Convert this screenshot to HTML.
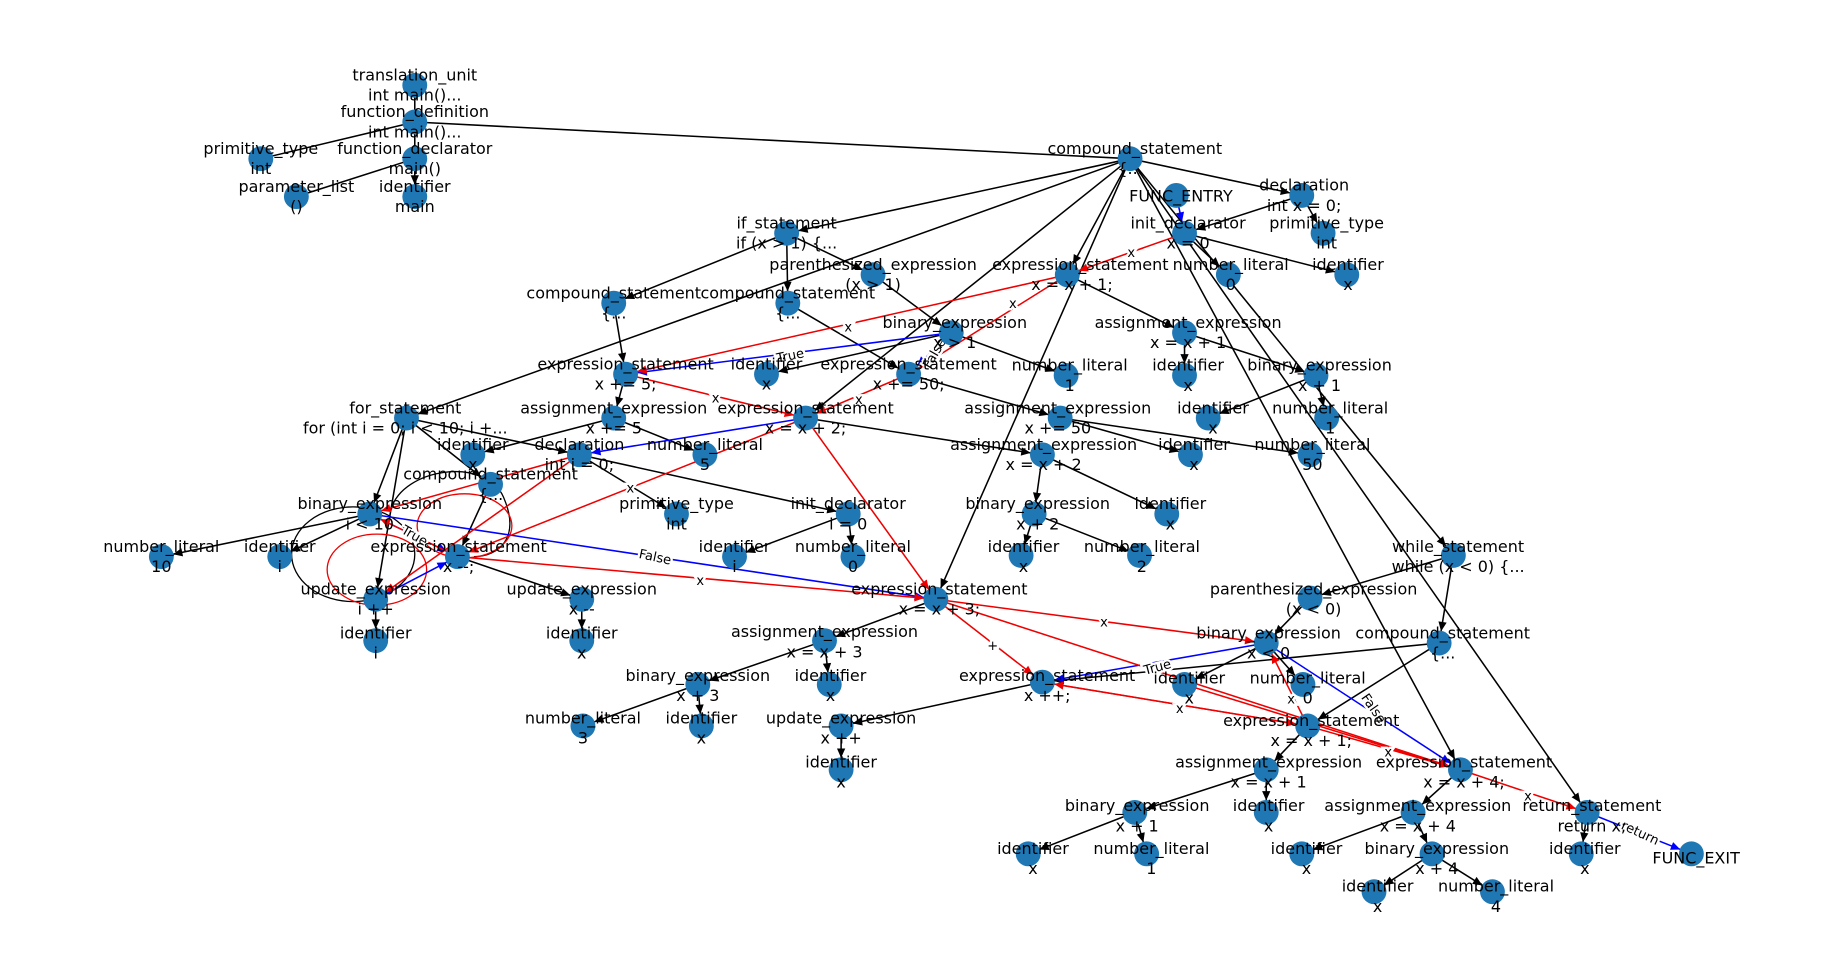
<!DOCTYPE html>
<html><head><meta charset="utf-8"><style>
html,body{margin:0;padding:0;background:#fff;}
svg{display:block}
text{font-family:"DejaVu Sans","Liberation Sans",sans-serif;}
.n text{font-size:13.5px;text-anchor:middle;fill:#000}
.el{font-size:11px;text-anchor:middle;fill:#000;paint-order:stroke;stroke:#fff;stroke-width:4px}
</style></head><body>
<svg width="1848" height="977" viewBox="0 0 1560 825" xmlns="http://www.w3.org/2000/svg">
<defs>
<marker id="ak" markerUnits="userSpaceOnUse" markerWidth="30" markerHeight="30" refX="0" refY="0" viewBox="-20 -10 30 20" orient="auto" overflow="visible"><path d="M-18,-3.5 L-10,0 L-18,3.5 z" fill="#000"/></marker>
<marker id="ab" markerUnits="userSpaceOnUse" markerWidth="30" markerHeight="30" refX="0" refY="0" viewBox="-20 -10 30 20" orient="auto" overflow="visible"><path d="M-18,-3.5 L-10,0 L-18,3.5 z" fill="#00f"/></marker>
<marker id="ar" markerUnits="userSpaceOnUse" markerWidth="30" markerHeight="30" refX="0" refY="0" viewBox="-20 -10 30 20" orient="auto" overflow="visible"><path d="M-18,-3.5 L-10,0 L-18,3.5 z" fill="#e00"/></marker>
</defs>
<g stroke="#000" stroke-width="1.3" fill="none" marker-end="url(#ak)">
<path d="M350,72L350,103M350,103L220,134M350,103L350,134M350,103L954,134M350,134L250,166M350,134L350,166"/>
<line x1="954" y1="134" x2="1099" y2="165"/><line x1="954" y1="134" x2="664" y2="197"/><line x1="954" y1="134" x2="343" y2="353"/><line x1="954" y1="134" x2="901" y2="232"/><line x1="954" y1="134" x2="790" y2="506"/><line x1="954" y1="134" x2="1227" y2="469"/><line x1="954" y1="134" x2="1233" y2="650"/><line x1="954" y1="134" x2="1340" y2="686"/><line x1="954" y1="134" x2="680" y2="353"/>
<line x1="1099" y1="165" x2="1000" y2="197"/><line x1="1099" y1="165" x2="1117" y2="197"/><line x1="1000" y1="197" x2="1037" y2="232"/><line x1="1000" y1="197" x2="1137" y2="232"/>
<line x1="664" y1="197" x2="737" y2="232"/><line x1="664" y1="197" x2="518" y2="256"/><line x1="664" y1="197" x2="665" y2="256"/><line x1="737" y1="232" x2="803" y2="281"/><line x1="803" y1="281" x2="647" y2="316"/><line x1="803" y1="281" x2="900" y2="317"/>
<line x1="518" y1="256" x2="528" y2="316"/><line x1="665" y1="256" x2="767" y2="316"/><line x1="528" y1="316" x2="518" y2="353"/><line x1="518" y1="353" x2="399" y2="384"/><line x1="518" y1="353" x2="595" y2="384"/>
<line x1="767" y1="316" x2="895" y2="353"/><line x1="895" y1="353" x2="1005" y2="384"/><line x1="895" y1="353" x2="1106" y2="384"/>
<line x1="901" y1="232" x2="1000" y2="281"/><line x1="1000" y1="281" x2="1000" y2="317"/><line x1="1000" y1="281" x2="1111" y2="317"/><line x1="1111" y1="317" x2="1020" y2="353"/><line x1="1111" y1="317" x2="1120" y2="353"/>
<line x1="680" y1="353" x2="880" y2="384"/><line x1="880" y1="384" x2="873" y2="434"/><line x1="880" y1="384" x2="985" y2="434"/><line x1="873" y1="434" x2="862" y2="469"/><line x1="873" y1="434" x2="962" y2="469"/>
<line x1="343" y1="353" x2="489" y2="384"/><line x1="343" y1="353" x2="312" y2="434"/><line x1="343" y1="353" x2="317" y2="506"/><line x1="343" y1="353" x2="414" y2="409"/>
<line x1="489" y1="384" x2="571" y2="434"/><line x1="489" y1="384" x2="716" y2="434"/><line x1="716" y1="434" x2="620" y2="470"/><line x1="716" y1="434" x2="720" y2="470"/>
<line x1="312" y1="434" x2="136" y2="470"/><line x1="312" y1="434" x2="236" y2="470"/><line x1="317" y1="506" x2="317" y2="541"/><line x1="414" y1="409" x2="386" y2="470"/><line x1="386" y1="470" x2="491" y2="506"/><line x1="491" y1="506" x2="491" y2="541"/>
<line x1="790" y1="506" x2="696" y2="541"/><line x1="696" y1="541" x2="589" y2="578"/><line x1="696" y1="541" x2="700" y2="578"/><line x1="589" y1="578" x2="492" y2="613"/><line x1="589" y1="578" x2="592" y2="613"/>
<line x1="880" y1="576" x2="710" y2="613"/><line x1="710" y1="613" x2="710" y2="650"/>
<line x1="1227" y1="469" x2="1106" y2="505"/><line x1="1227" y1="469" x2="1215" y2="543"/><line x1="1106" y1="505" x2="1069" y2="543"/><line x1="1069" y1="543" x2="1000" y2="578"/><line x1="1069" y1="543" x2="1100" y2="578"/>
<line x1="1215" y1="543" x2="880" y2="576"/><line x1="1215" y1="543" x2="1104" y2="613"/><line x1="1104" y1="613" x2="1069" y2="650"/><line x1="1069" y1="650" x2="958" y2="686"/><line x1="1069" y1="650" x2="1069" y2="686"/><line x1="958" y1="686" x2="868" y2="721"/><line x1="958" y1="686" x2="968" y2="721"/>
<line x1="1233" y1="650" x2="1193" y2="686"/><line x1="1193" y1="686" x2="1099" y2="721"/><line x1="1193" y1="686" x2="1209" y2="721"/><line x1="1209" y1="721" x2="1160" y2="753"/><line x1="1209" y1="721" x2="1260" y2="753"/><line x1="1340" y1="686" x2="1335" y2="721"/>
</g>
<g fill="none" stroke="#000" stroke-width="1.1">
<ellipse cx="298" cy="468" rx="52" ry="40"/>
<path d="M330,430 C340,395 410,385 425,420 C440,455 420,470 400,470"/>
</g>
<g fill="none" stroke="#e00" stroke-width="1.1">
<ellipse cx="318" cy="481" rx="42" ry="30"/>
<ellipse cx="392" cy="444" rx="40" ry="27"/>
</g>
<g stroke="#00f" stroke-width="1.3" fill="none" marker-end="url(#ab)">
<line x1="993" y1="165" x2="1000" y2="197"/><line x1="803" y1="281" x2="528" y2="316"/><line x1="803" y1="281" x2="767" y2="316"/><line x1="680" y1="353" x2="489" y2="384"/><line x1="312" y1="434" x2="386" y2="470"/><line x1="312" y1="434" x2="790" y2="506"/><line x1="317" y1="506" x2="386" y2="470"/><line x1="1069" y1="543" x2="880" y2="576"/><line x1="1069" y1="543" x2="1233" y2="650"/><line x1="1340" y1="686" x2="1428" y2="721"/>
</g>
<g stroke="#e00" stroke-width="1.3" fill="none" marker-end="url(#ar)">
<line x1="1000" y1="197" x2="901" y2="232"/><line x1="901" y1="232" x2="528" y2="316"/><line x1="901" y1="232" x2="767" y2="316"/><line x1="767" y1="316" x2="680" y2="353"/><line x1="528" y1="316" x2="680" y2="353"/>
<line x1="680" y1="353" x2="790" y2="506"/><line x1="680" y1="353" x2="386" y2="470"/><line x1="386" y1="470" x2="790" y2="506"/><line x1="489" y1="384" x2="312" y2="434"/><line x1="489" y1="384" x2="317" y2="506"/><line x1="386" y1="470" x2="312" y2="434"/>
<line x1="790" y1="506" x2="1069" y2="543"/><line x1="790" y1="506" x2="880" y2="576"/><line x1="790" y1="506" x2="1233" y2="650"/><line x1="880" y1="576" x2="1104" y2="613"/><line x1="1104" y1="613" x2="880" y2="576"/><line x1="1104" y1="613" x2="1069" y2="543"/><line x1="1104" y1="613" x2="1233" y2="650"/><line x1="1000" y1="578" x2="1233" y2="650"/><line x1="1233" y1="650" x2="1340" y2="686"/>
</g>
<g class="el">
<text x="955" y="217">x</text><text x="716" y="280">x</text><text x="855" y="260">x</text><text x="725" y="341">x</text><text x="604" y="340">x</text><text x="532" y="416">x</text><text x="591" y="494">x</text><text x="932" y="529">x</text><text x="838" y="549">+</text><text x="996" y="602">x</text><text x="1090" y="594">x</text><text x="1172" y="639">x</text><text x="1290" y="676">x</text>
<text x="667" y="304" transform="rotate(-12 667 300)">True</text><text x="792" y="300" transform="rotate(-60 792 300)">False</text><text x="350" y="456" transform="rotate(30 350 452)">True</text><text x="553" y="474" transform="rotate(12 553 470)">False</text><text x="977" y="567" transform="rotate(-15 977 563)">True</text><text x="1160" y="602" transform="rotate(55 1160 598)">False</text><text x="1385" y="707" transform="rotate(25 1385 703)">return</text>
</g>
<g fill="#1f77b4">
<circle cx="350" cy="72" r="10.5"/><circle cx="350" cy="103" r="10.5"/><circle cx="220" cy="134" r="10.5"/><circle cx="350" cy="134" r="10.5"/><circle cx="250" cy="166" r="10.5"/><circle cx="350" cy="166" r="10.5"/>
<circle cx="954" cy="134" r="10.5"/><circle cx="993" cy="165" r="10.5"/><circle cx="1099" cy="165" r="10.5"/><circle cx="1000" cy="197" r="10.5"/><circle cx="1117" cy="197" r="10.5"/><circle cx="1037" cy="232" r="10.5"/><circle cx="1137" cy="232" r="10.5"/>
<circle cx="664" cy="197" r="10.5"/><circle cx="737" cy="232" r="10.5"/><circle cx="901" cy="232" r="10.5"/><circle cx="518" cy="256" r="10.5"/><circle cx="665" cy="256" r="10.5"/><circle cx="803" cy="281" r="10.5"/><circle cx="1000" cy="281" r="10.5"/>
<circle cx="528" cy="316" r="10.5"/><circle cx="647" cy="316" r="10.5"/><circle cx="767" cy="316" r="10.5"/><circle cx="900" cy="317" r="10.5"/><circle cx="1000" cy="317" r="10.5"/><circle cx="1111" cy="317" r="10.5"/>
<circle cx="343" cy="353" r="10.5"/><circle cx="518" cy="353" r="10.5"/><circle cx="680" cy="353" r="10.5"/><circle cx="895" cy="353" r="10.5"/><circle cx="1020" cy="353" r="10.5"/><circle cx="1120" cy="353" r="10.5"/>
<circle cx="399" cy="384" r="10.5"/><circle cx="489" cy="384" r="10.5"/><circle cx="595" cy="384" r="10.5"/><circle cx="880" cy="384" r="10.5"/><circle cx="1005" cy="384" r="10.5"/><circle cx="1106" cy="384" r="10.5"/>
<circle cx="414" cy="409" r="10.5"/><circle cx="312" cy="434" r="10.5"/><circle cx="571" cy="434" r="10.5"/><circle cx="716" cy="434" r="10.5"/><circle cx="873" cy="434" r="10.5"/><circle cx="985" cy="434" r="10.5"/>
<circle cx="136" cy="470" r="10.5"/><circle cx="236" cy="470" r="10.5"/><circle cx="386" cy="470" r="10.5"/><circle cx="620" cy="470" r="10.5"/><circle cx="720" cy="470" r="10.5"/><circle cx="862" cy="469" r="10.5"/><circle cx="962" cy="469" r="10.5"/><circle cx="1227" cy="469" r="10.5"/>
<circle cx="317" cy="506" r="10.5"/><circle cx="491" cy="506" r="10.5"/><circle cx="790" cy="506" r="10.5"/><circle cx="1106" cy="505" r="10.5"/>
<circle cx="317" cy="541" r="10.5"/><circle cx="491" cy="541" r="10.5"/><circle cx="696" cy="541" r="10.5"/><circle cx="1069" cy="543" r="10.5"/><circle cx="1215" cy="543" r="10.5"/>
<circle cx="589" cy="578" r="10.5"/><circle cx="700" cy="578" r="10.5"/><circle cx="880" cy="576" r="10.5"/><circle cx="1000" cy="578" r="10.5"/><circle cx="1100" cy="578" r="10.5"/>
<circle cx="492" cy="613" r="10.5"/><circle cx="592" cy="613" r="10.5"/><circle cx="710" cy="613" r="10.5"/><circle cx="1104" cy="613" r="10.5"/>
<circle cx="710" cy="650" r="10.5"/><circle cx="1069" cy="650" r="10.5"/><circle cx="1233" cy="650" r="10.5"/>
<circle cx="958" cy="686" r="10.5"/><circle cx="1069" cy="686" r="10.5"/><circle cx="1193" cy="686" r="10.5"/><circle cx="1340" cy="686" r="10.5"/>
<circle cx="868" cy="721" r="10.5"/><circle cx="968" cy="721" r="10.5"/><circle cx="1099" cy="721" r="10.5"/><circle cx="1209" cy="721" r="10.5"/><circle cx="1335" cy="721" r="10.5"/><circle cx="1428" cy="721" r="10.5"/>
<circle cx="1160" cy="753" r="10.5"/><circle cx="1260" cy="753" r="10.5"/>
</g>
<g class="n">
<text x="350" y="68">translation_unit</text><text x="350" y="85">int main()...</text>
<text x="350" y="99">function_definition</text><text x="350" y="116">int main()...</text>
<text x="220" y="130">primitive_type</text><text x="220" y="147">int</text>
<text x="350" y="130">function_declarator</text><text x="350" y="147">main()</text>
<text x="250" y="162">parameter_list</text><text x="250" y="179">()</text>
<text x="350" y="162">identifier</text><text x="350" y="179">main</text>
<text x="958" y="130">compound_statement</text><text x="954" y="147">{...</text>
<text x="997" y="170">FUNC_ENTRY</text>
<text x="1101" y="161">declaration</text><text x="1101" y="178">int x = 0;</text>
<text x="1003" y="193">init_declarator</text><text x="1003" y="210">x = 0</text>
<text x="1120" y="193">primitive_type</text><text x="1120" y="210">int</text>
<text x="1039" y="228">number_literal</text><text x="1039" y="245">0</text>
<text x="1138" y="228">identifier</text><text x="1138" y="245">x</text>
<text x="664" y="193">if_statement</text><text x="664" y="210">if (x &gt; 1) {...</text>
<text x="737" y="228">parenthesized_expression</text><text x="737" y="245">(x &gt; 1)</text>
<text x="912" y="228">expression_statement</text><text x="905" y="245">x = x + 1;</text>
<text x="518" y="252">compound_statement</text><text x="518" y="269">{...</text>
<text x="665" y="252">compound_statement</text><text x="665" y="269">{...</text>
<text x="806" y="277">binary_expression</text><text x="806" y="294">x &gt; 1</text>
<text x="1003" y="277">assignment_expression</text><text x="1003" y="294">x = x + 1</text>
<text x="528" y="312">expression_statement</text><text x="528" y="329">x += 5;</text>
<text x="647" y="312">identifier</text><text x="647" y="329">x</text>
<text x="767" y="312">expression_statement</text><text x="767" y="329">x += 50;</text>
<text x="903" y="313">number_literal</text><text x="903" y="330">1</text>
<text x="1003" y="313">identifier</text><text x="1003" y="330">x</text>
<text x="1114" y="313">binary_expression</text><text x="1114" y="330">x + 1</text>
<text x="342" y="349">for_statement</text><text x="342" y="366">for (int i = 0; i &lt; 10; i +...</text>
<text x="518" y="349">assignment_expression</text><text x="518" y="366">x += 5</text>
<text x="680" y="349">expression_statement</text><text x="680" y="366">x = x + 2;</text>
<text x="893" y="349">assignment_expression</text><text x="893" y="366">x += 50</text>
<text x="1024" y="349">identifier</text><text x="1024" y="366">x</text>
<text x="1123" y="349">number_literal</text><text x="1123" y="366">1</text>
<text x="399" y="380">identifier</text><text x="399" y="397">x</text>
<text x="489" y="380">declaration</text><text x="489" y="397">int i = 0;</text>
<text x="595" y="380">number_literal</text><text x="595" y="397">5</text>
<text x="881" y="380">assignment_expression</text><text x="881" y="397">x = x + 2</text>
<text x="1008" y="380">identifier</text><text x="1008" y="397">x</text>
<text x="1108" y="380">number_literal</text><text x="1108" y="397">50</text>
<text x="414" y="405">compound_statement</text><text x="414" y="422">{...</text>
<text x="312" y="430">binary_expression</text><text x="312" y="447">i &lt; 10</text>
<text x="571" y="430">primitive_type</text><text x="571" y="447">int</text>
<text x="716" y="430">init_declarator</text><text x="716" y="447">i = 0</text>
<text x="876" y="430">binary_expression</text><text x="876" y="447">x + 2</text>
<text x="988" y="430">identifier</text><text x="988" y="447">x</text>
<text x="136" y="466">number_literal</text><text x="136" y="483">10</text>
<text x="236" y="466">identifier</text><text x="236" y="483">i</text>
<text x="387" y="466">expression_statement</text><text x="387" y="483">x --;</text>
<text x="620" y="466">identifier</text><text x="620" y="483">i</text>
<text x="720" y="466">number_literal</text><text x="720" y="483">0</text>
<text x="864" y="466">identifier</text><text x="864" y="483">x</text>
<text x="964" y="466">number_literal</text><text x="964" y="483">2</text>
<text x="1231" y="466">while_statement</text><text x="1231" y="483">while (x &lt; 0) {...</text>
<text x="317" y="502">update_expression</text><text x="317" y="519">i ++</text>
<text x="491" y="502">update_expression</text><text x="491" y="519">x --</text>
<text x="793" y="502">expression_statement</text><text x="793" y="519">x = x + 3;</text>
<text x="1109" y="502">parenthesized_expression</text><text x="1109" y="519">(x &lt; 0)</text>
<text x="317" y="539">identifier</text><text x="317" y="556">i</text>
<text x="491" y="539">identifier</text><text x="491" y="556">x</text>
<text x="696" y="538">assignment_expression</text><text x="696" y="555">x = x + 3</text>
<text x="1071" y="539">binary_expression</text><text x="1071" y="556">x &lt; 0</text>
<text x="1218" y="539">compound_statement</text><text x="1218" y="556">{...</text>
<text x="589" y="575">binary_expression</text><text x="589" y="592">x + 3</text>
<text x="701" y="575">identifier</text><text x="701" y="592">x</text>
<text x="884" y="575">expression_statement</text><text x="884" y="592">x ++;</text>
<text x="1004" y="577">identifier</text><text x="1004" y="594">x</text>
<text x="1104" y="577">number_literal</text><text x="1104" y="594">0</text>
<text x="492" y="611">number_literal</text><text x="492" y="628">3</text>
<text x="592" y="611">identifier</text><text x="592" y="628">x</text>
<text x="710" y="611">update_expression</text><text x="710" y="628">x ++</text>
<text x="1107" y="613">expression_statement</text><text x="1107" y="630">x = x + 1;</text>
<text x="710" y="648">identifier</text><text x="710" y="665">x</text>
<text x="1071" y="648">assignment_expression</text><text x="1071" y="665">x = x + 1</text>
<text x="1236" y="648">expression_statement</text><text x="1236" y="665">x = x + 4;</text>
<text x="960" y="685">binary_expression</text><text x="960" y="702">x + 1</text>
<text x="1071" y="685">identifier</text><text x="1071" y="702">x</text>
<text x="1197" y="685">assignment_expression</text><text x="1197" y="702">x = x + 4</text>
<text x="1344" y="685">return_statement</text><text x="1344" y="702">return x;</text>
<text x="872" y="721">identifier</text><text x="872" y="738">x</text>
<text x="972" y="721">number_literal</text><text x="972" y="738">1</text>
<text x="1103" y="721">identifier</text><text x="1103" y="738">x</text>
<text x="1213" y="721">binary_expression</text><text x="1213" y="738">x + 4</text>
<text x="1338" y="721">identifier</text><text x="1338" y="738">x</text>
<text x="1432" y="729">FUNC_EXIT</text>
<text x="1163" y="753">identifier</text><text x="1163" y="770">x</text>
<text x="1263" y="753">number_literal</text><text x="1263" y="770">4</text>
</g>
</svg>
</body></html>
